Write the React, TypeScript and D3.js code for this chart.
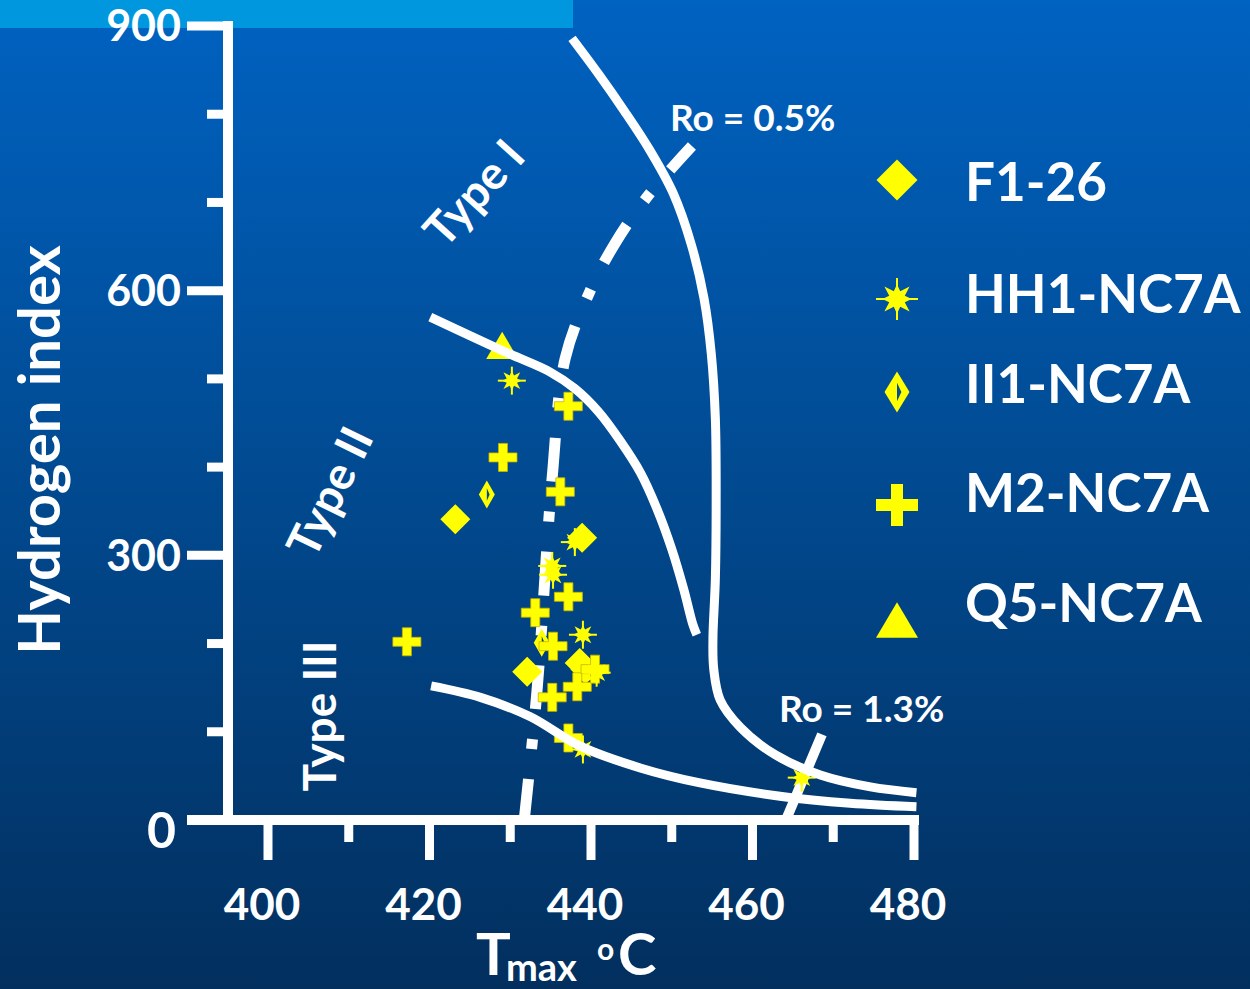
import React from 'react';
import * as d3 from 'd3';

// Pyrolysis HI vs Tmax plot (kerogen type diagram)
const W = 1250;
const H = 989;
const FONT = "Lato, 'Open Sans', sans-serif";
const YELLOW = '#FFFF00';

const xTicks = [400, 410, 420, 430, 440, 450, 460, 470, 480];
const xLabels = [400, 420, 440, 460, 480];
const yTicks = [0, 100, 200, 300, 400, 500, 600, 700, 800, 900];
const yLabels = [300, 600, 900];

// kerogen type boundary curves [Tmax, HI]
const typeICurve = [
  [437.65, 886], [440.9, 846], [444.1, 804], [447.3, 759], [450.2, 710], [452.4, 653],
  [454.0, 591], [454.9, 528], [455.4, 455], [455.5, 364], [455.4, 273], [455.1, 205], [455.2, 171],
  [456.0, 136], [458.5, 105], [462.8, 74], [468.4, 51], [474.6, 37.5], [480.3, 31],
];
const typeIICurve = [
  [420.1, 570], [425.0, 549], [430.0, 528], [434.9, 508], [438.0, 489], [440.9, 463],
  [443.6, 430], [446.1, 394], [448.2, 352], [450.0, 307], [451.5, 261], [452.6, 222], [453.1, 210],
];
const typeIIICurve = [
  [420.2, 152], [426.3, 139], [432.5, 117], [438.6, 84], [446.1, 59], [453.5, 42],
  [463.4, 27], [472.1, 19], [480.3, 15],
];
// vitrinite reflectance iso-lines
const ro05Line = [
  [431.7, -3], [433.3, 145], [435.2, 389], [436.8, 523], [439.9, 600], [443.0, 654],
  [447.1, 708], [452.5, 764],
];
const ro13Line = [[464.0, -3], [468.6, 97]];

// samples [Tmax, HI]
const f126 = [[423.2, 341], [438.9, 320], [432.1, 168], [438.6, 178], [439.3, 171]];
const hh1 = [[430.2, 498], [438.0, 315], [435.2, 288], [435.3, 278], [439.0, 210], [440.7, 167], [439.0, 80], [466.1, 48]];
const ii1 = [[427.1, 369], [433.9, 201]];
const m2 = [
  [417.2, 202], [429.1, 411], [437.2, 469], [436.2, 372], [437.2, 253], [433.1, 235],
  [435.3, 197], [435.2, 139], [438.3, 151], [440.5, 171], [437.2, 93],
];
const q5 = [[429.0, 538]];

const legendNames = ['F1-26', 'HH1-NC7A', 'II1-NC7A', 'M2-NC7A', 'Q5-NC7A'];
const legendY = [180, 299, 392, 505, 620];
const legendBase = [201, 313, 403, 512, 622];

// marker path builders, r = half size
const diamond = (r) => `M0,${-r}L${r},0L0,${r}L${-r},0Z`;
const hollowDiamond = (rx, ry) =>
  `M0,${-ry}L${rx},0L0,${ry}L${-rx},0Z M0,${-ry * 0.45}L${rx * 0.35},0L0,${ry * 0.45}Z`;
const plus = (r, t) =>
  `M${-t / 2},${-r}H${t / 2}V${-t / 2}H${r}V${t / 2}H${t / 2}V${r}H${-t / 2}V${t / 2}H${-r}V${-t / 2}H${-t / 2}Z`;
const triangle = (r) => `M0,${-r * 0.85}L${r},${r * 0.85}L${-r},${r * 0.85}Z`;
const starBody = (r) => {
  const pts = [];
  for (let i = 0; i < 16; i++) {
    const a = (i * Math.PI) / 8 - Math.PI / 2;
    const k = i % 2 === 1 ? 0.4 : (i / 2) % 2 === 1 ? 0.85 : 0.7;
    pts.push([Math.cos(a) * r * k, Math.sin(a) * r * k]);
  }
  return 'M' + pts.map((p) => p.join(',')).join('L') + 'Z';
};

function Star({ x, y, r }) {
  return (
    <g transform={`translate(${x},${y})`}>
      <path d={starBody(r)} fill={YELLOW} />
      <line x1={-r} x2={r} y1={0} y2={0} stroke={YELLOW} strokeWidth={2} />
      <line x1={0} x2={0} y1={-r} y2={r} stroke={YELLOW} strokeWidth={2} />
    </g>
  );
}

export default function App() {
  const x = d3.scaleLinear().domain([400, 480]).range([268, 914]);
  const y = d3.scaleLinear().domain([0, 900]).range([820, 26]);

  const curve = d3
    .line()
    .x((d) => x(d[0]))
    .y((d) => y(d[1]))
    .curve(d3.curveCatmullRom.alpha(0.5));

  const axisX = 228;

  return (
    <svg width={W} height={H} style={{ position: 'absolute', left: 0, top: 0 }} fontFamily={FONT}>
      <defs>
        <linearGradient id="bg" x1="0" y1="0" x2="0" y2="1">
          <stop offset="0" stopColor="#0062C1" />
          <stop offset="0.5" stopColor="#01498F" />
          <stop offset="1" stopColor="#022F5E" />
        </linearGradient>
      </defs>
      <rect width={W} height={H} fill="url(#bg)" />
      <rect x={0} y={0} width={573} height={28} fill="#0097DF" />

      {/* axes */}
      <line x1={axisX} x2={axisX} y1={y(900) - 5} y2={y(0) + 5} stroke="#fff" strokeWidth={10} />
      <line x1={187} x2={919} y1={y(0)} y2={y(0)} stroke="#fff" strokeWidth={10} />
      {yTicks.slice(1).map((t) => (
        <line key={t} x1={t % 300 === 0 ? 187 : 207} x2={axisX} y1={y(t)} y2={y(t)} stroke="#fff" strokeWidth={9} />
      ))}
      {xTicks.map((t) => (
        <line key={t} x1={x(t)} x2={x(t)} y1={y(0)} y2={t % 20 === 0 ? 860 : 842} stroke="#fff" strokeWidth={9} />
      ))}
      {yLabels.map((t) => (
        <text key={t} x={181} y={y(t)} dy="0.36em" textAnchor="end" fill="#fff" fontSize={43} fontWeight={700}>
          {t}
        </text>
      ))}
      <text x={176} y={830} dy="0.36em" textAnchor="end" fill="#fff" fontSize={50} fontWeight={700}>0</text>
      {xLabels.map((t) => (
        <text key={t} x={x(t) - 6} y={920} textAnchor="middle" fill="#fff" fontSize={44} fontWeight={700}>
          {t}
        </text>
      ))}

      {/* axis titles */}
      <text transform="translate(60,450) rotate(-90)" textAnchor="middle" fill="#fff" fontSize={58} fontWeight={700}>
        Hydrogen index
      </text>
      <text x={476} y={975} fill="#fff" fontSize={58} fontWeight={700}>T</text>
      <text x={506} y={981} fill="#fff" fontSize={38} fontWeight={700}>max</text>
      <text x={597} y={960} fill="#fff" fontSize={30} fontWeight={700}>o</text>
      <text x={618} y={975} fill="#fff" fontSize={58} fontWeight={700}>C</text>

      {/* Ro lines */}
      <path d={curve(ro05Line)} fill="none" stroke="#fff" strokeWidth={11} strokeDasharray="44,30,10,30" />
      <path d={curve(ro13Line)} fill="none" stroke="#fff" strokeWidth={10} />
      <text x={670} y={131} fill="#fff" fontSize={37} fontWeight={700}>Ro = 0.5%</text>
      <text x={779} y={722} fill="#fff" fontSize={37} fontWeight={700}>Ro = 1.3%</text>

      {/* samples */}
      {q5.map((d, i) => (
        <path key={'q' + i} transform={`translate(${x(d[0])},${y(d[1])})`} d={triangle(16)} fill={YELLOW} />
      ))}
      {f126.map((d, i) => (
        <path key={'f' + i} transform={`translate(${x(d[0])},${y(d[1])})`} d={diamond(15)} fill={YELLOW} />
      ))}
      {ii1.map((d, i) => (
        <path key={'i' + i} transform={`translate(${x(d[0])},${y(d[1])})`} d={hollowDiamond(8, 14)} fill={YELLOW} fillRule="evenodd" />
      ))}
      {m2.map((d, i) => (
        <path key={'m' + i} transform={`translate(${x(d[0])},${y(d[1])})`} d={plus(14, 9)} fill={YELLOW} stroke="#C8B400" strokeWidth={0.8} />
      ))}
      {hh1.map((d, i) => (
        <Star key={'h' + i} x={x(d[0])} y={y(d[1])} r={14} />
      ))}

      {/* kerogen type boundaries */}
      {[typeICurve, typeIICurve, typeIIICurve].map((c, i) => (
        <path key={i} d={curve(c)} fill="none" stroke="#fff" strokeWidth={9} />
      ))}
      <text transform="translate(474,193) rotate(-48)" textAnchor="middle" dy="0.35em" fill="#fff" fontSize={46} fontWeight={700}>Type I</text>
      <text transform="translate(330,492) rotate(-64)" textAnchor="middle" dy="0.35em" fill="#fff" fontSize={46} fontWeight={700}>Type II</text>
      <text transform="translate(320,716) rotate(-90)" textAnchor="middle" dy="0.35em" fill="#fff" fontSize={46} fontWeight={700}>Type III</text>

      {/* legend */}
      <path transform={`translate(897,${legendY[0]})`} d={diamond(20.5)} fill={YELLOW} />
      <Star x={897} y={legendY[1]} r={21} />
      <path transform={`translate(897,${legendY[2]})`} d={hollowDiamond(12.5, 20.5)} fill={YELLOW} fillRule="evenodd" />
      <path transform={`translate(897,${legendY[3]})`} d={plus(21, 12)} fill={YELLOW} />
      <path transform={`translate(897,${legendY[4]})`} d={triangle(21)} fill={YELLOW} />
      {legendNames.map((n, i) => (
        <text key={n} x={965} y={legendBase[i]} fill="#fff" fontSize={53} fontWeight={700}>
          {n}
        </text>
      ))}
    </svg>
  );
}
